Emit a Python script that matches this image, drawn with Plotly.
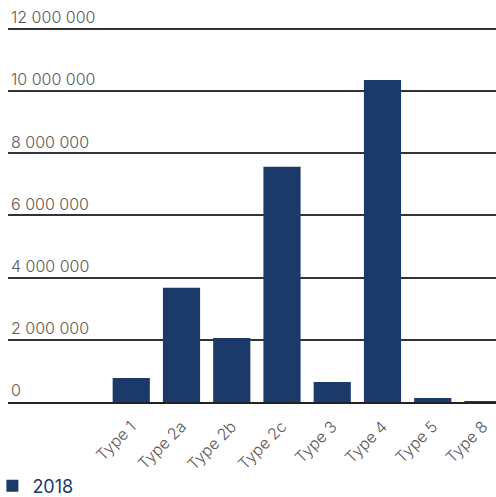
import plotly.graph_objects as go

categories = ["Type 1", "Type 2a", "Type 2b", "Type 2c", "Type 3", "Type 4", "Type 5", "Type 8"]
values_2018 = [770000, 3670000, 2060000, 7560000, 640000, 10350000, 130000, 30000]
y_tickvals = [0, 2000000, 4000000, 6000000, 8000000, 10000000, 12000000]
y_ticktext = ["0", "2 000 000", "4 000 000", "6 000 000", "8 000 000", "10 000 000", "12 000 000"]

navy = "#1b3a69"
label_grey = "#5a5a5a"

fig = go.Figure()
fig.add_trace(go.Bar(
    x=categories, y=values_2018, name="2018",
    marker=dict(color=navy, line=dict(width=0)),
    width=0.74,
))

fig.update_layout(
    width=496, height=497,
    margin=dict(l=8, r=0, t=7, b=95, autoexpand=False),
    plot_bgcolor="white", paper_bgcolor="white",
    font=dict(family="Inter, Lato, sans-serif", color=label_grey, size=15, weight=300),
    showlegend=True,
    legend=dict(
        x=-0.032, xanchor="left",
        yref="container", y=0.022, yanchor="middle",
        orientation="h",
        font=dict(size=18, color=navy, weight=400),
        bgcolor="rgba(0,0,0,0)",
    ),
)
fig.update_xaxes(
    type="category",
    range=[-2.453, 7.259],
    tickangle=-45,
    automargin=False,
    ticklabelstandoff=7,
    showgrid=False,
    showline=True, linecolor="#222222", linewidth=2,
    ticks="",
    tickfont=dict(size=16, color=label_grey, weight=300),
)
fig.update_yaxes(
    range=[0, 12700000],
    automargin=False,
    tickvals=y_tickvals, ticktext=y_ticktext,
    ticklabelposition="inside top",
    showgrid=True, gridcolor="#333333", gridwidth=1.5,
    zeroline=False,
    tickfont=dict(size=16, color=label_grey, weight=300),
)

fig.write_html("out.html")
